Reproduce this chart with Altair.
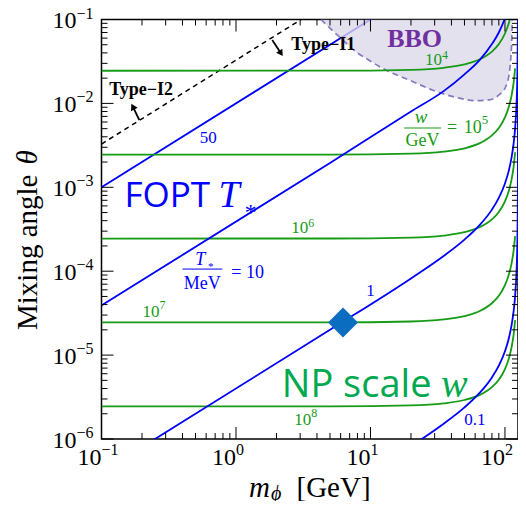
import altair as alt
import pandas as pd

PLOT_W = 416.5
PLOT_H = 419.5

X_DOMAIN = [0.1, 125]
Y_DOMAIN = [1e-6, 0.1]

# ---------------- curves ----------------
GREEN_M = [0.1, 5, 20, 35, 50, 65, 80, 90, 100, 107, 112, 116, 119]
GREEN_W4 = [0.0245, 0.02454, 0.02514, 0.02658, 0.02916, 0.03358, 0.0415, 0.05087, 0.06806, 0.09167, 0.1242, 0.1765, 0.2615]
GREEN_W5 = [0.00245, 0.002454, 0.002514, 0.002658, 0.002916, 0.003358, 0.00415, 0.005087, 0.006806, 0.009167, 0.01242, 0.01765, 0.02615]
GREEN_W6 = [2.45e-4, 2.454e-4, 2.514e-4, 2.658e-4, 2.916e-4, 3.358e-4, 4.15e-4, 5.087e-4, 6.806e-4, 9.167e-4, 1.242e-3, 1.765e-3, 2.615e-3]
GREEN_W7 = [2.45e-5, 2.454e-5, 2.514e-5, 2.658e-5, 2.916e-5, 3.358e-5, 4.15e-5, 5.087e-5, 6.806e-5, 9.167e-5, 1.242e-4, 1.765e-4, 2.615e-4]
GREEN_W8 = [2.45e-6, 2.454e-6, 2.514e-6, 2.658e-6, 2.916e-6, 3.358e-6, 4.15e-6, 5.087e-6, 6.806e-6, 9.167e-6, 1.242e-5, 1.765e-5, 2.615e-5]

BLUE_T50_M = [0.1, 12]
BLUE_T50 = [1e-3, 0.12]
BLUE_T10_M = [0.1, 5, 20, 35, 50, 65, 80, 90, 100, 107]
BLUE_T10 = [3.9e-5, 1.953e-3, 8.0e-3, 0.0140, 0.0222, 0.0330, 0.0510, 0.0700, 0.104, 0.15]
BLUE_T1_M = [0.2, 5, 20, 35, 50, 65, 80, 90, 100, 107, 112, 116, 119, 121, 122.5, 123.5, 124.2, 124.6, 124.85]
BLUE_T1 = [8.0e-7, 2.003e-5, 8.21e-5, 1.519e-4, 2.38e-4, 3.564e-4, 5.42e-4, 7.475e-4, 1.111e-3, 1.601e-3,
           2.272e-3, 3.343e-3, 5.08e-3, 7.686e-3, 0.01237, 0.0207, 0.03895, 0.078, 0.2082]
BLUE_T01_M = [20, 35, 50, 65, 80, 90, 100, 107, 112, 116, 119, 121, 122.5, 123.5, 124.2, 124.6, 124.85, 124.95, 124.99, 124.999]
BLUE_T01 = [8.21e-7, 1.519e-6, 2.38e-6, 3.564e-6, 5.42e-6, 7.475e-6, 1.111e-5, 1.601e-5, 2.272e-5, 3.343e-5,
            5.08e-5, 7.686e-5, 1.237e-4, 2.07e-4, 3.895e-4, 7.8e-4, 2.082e-3, 6.25e-3, 3.12e-2, 0.312]

TYPE_M = [0.1, 3.2]
TYPE_THETA = [3.28e-3, 0.105]

BBO_M = [4.28, 5.85, 7.78, 9.24, 13.0, 19.4, 28.8, 43.0, 60.6, 76.0, 90.2, 101.2, 107.1, 110.2, 112.1, 113.3]
BBO_THETA = [0.1, 0.0624, 0.0413, 0.0345, 0.025, 0.019, 0.01445, 0.01183, 0.01076, 0.011, 0.0126, 0.0158,
             0.0218, 0.0329, 0.052, 0.1]

BENCH_M = [6.25]
BENCH_THETA = [2.45e-5]

# ticks
X_MAJOR = [0.1, 1, 10, 100]
X_EXP = ["\u22121", "0", "1", "2"]
X_MINOR = [0.2, 0.3, 0.4, 0.5, 0.6, 0.7, 0.8, 0.9, 2, 3, 4, 5, 6, 7, 8, 9, 20, 30, 40, 50, 60, 70, 80, 90]
Y_MAJOR = [1e-6, 1e-5, 1e-4, 1e-3, 1e-2, 1e-1]
Y_EXP = ["\u22126", "\u22125", "\u22124", "\u22123", "\u22122", "\u22121"]
Y_MINOR = [k * 10.0 ** e for e in range(-6, -1) for k in range(2, 10)]

# colours / fonts
BLUE = "#0000ff"
GREEN = "#159b15"
NP_GREEN = "#00a94f"
SERIF = "Liberation Serif, Times New Roman, serif"
SANS = "Open Sans, Noto Sans, sans-serif"

xs = alt.Scale(type="log", domain=X_DOMAIN, nice=False)
ys = alt.Scale(type="log", domain=Y_DOMAIN, nice=False)


def X(f):
    return alt.X(f, type="quantitative", scale=xs, axis=None)


def Y(f):
    return alt.Y(f, type="quantitative", scale=ys, axis=None)


def curve(ms, ths, color, width=1.8, dash=None, opacity=1.0):
    df = pd.DataFrame({"m": ms, "t": ths})
    kw = dict(color=color, strokeWidth=width, clip=True, interpolate="monotone", opacity=opacity)
    if dash:
        kw["strokeDash"] = dash
    return alt.Chart(df).mark_line(**kw).encode(x=X("m"), y=Y("t"), order="m:Q")


def label(text, m, th, size, color="black", font=SERIF, style="normal", weight="normal",
          align="center", baseline="alphabetic", dx=0, dy=0):
    df = pd.DataFrame({"m": [m], "t": [th]})
    return alt.Chart(df).mark_text(text=text, fontSize=size, color=color, font=font, fontStyle=style,
                                   fontWeight=weight, align=align, baseline=baseline, dx=dx, dy=dy
                                   ).encode(x=X("m"), y=Y("t"))


def power(m, th, exp, size, esize, color, edy):
    return [label("10", m, th, size, color=color, align="right"),
            label(exp, m, th, esize, color=color, align="left", dy=edy)]


def hbar(m1, m2, th, color):
    df = pd.DataFrame({"m": [m1], "m2": [m2], "t": [th]})
    return alt.Chart(df).mark_rule(color=color, strokeWidth=1).encode(x=X("m"), x2="m2", y=Y("t"))


def arrow(m1, t1, m2, t2, ang):
    df = pd.DataFrame({"m": [m1], "m2": [m2], "t": [t1], "t2": [t2]})
    line = alt.Chart(df).mark_rule(color="black", strokeWidth=1.8).encode(x=X("m"), x2="m2", y=Y("t"), y2="t2")
    head = alt.Chart(pd.DataFrame({"m": [m2], "t": [t2]})).mark_point(
        shape="triangle-up", filled=True, color="black", size=55, angle=ang, opacity=1).encode(x=X("m"), y=Y("t"))
    return [line, head]


def page_text(text, x, y, size, style="normal", angle=0):
    return alt.Chart(pd.DataFrame({"a": [0]})).mark_text(
        text=text, fontSize=size, font=SERIF, fontStyle=style, align="left", baseline="alphabetic",
        angle=angle).encode(x=alt.value(x), y=alt.value(y))


layers = []

# under-fill lines
layers.append(curve(BLUE_T50_M, BLUE_T50, BLUE))
layers.append(curve(TYPE_M, TYPE_THETA, "black", width=1.5, dash=[5, 4]))

# BBO region
bbo = pd.DataFrame({"m": BBO_M, "t": BBO_THETA, "top": [0.1] * len(BBO_M)})
layers.append(alt.Chart(bbo).mark_area(color="#dcd8ea", opacity=0.78, interpolate="monotone", clip=True)
              .encode(x=X("m"), y=Y("t"), y2="top"))
layers.append(alt.Chart(bbo).mark_line(color="#857ac0", strokeWidth=1.7, strokeDash=[6, 4],
                                       interpolate="monotone", clip=True)
              .encode(x=X("m"), y=Y("t"), order="m:Q"))

# green w contours
for vals in [GREEN_W4, GREEN_W5, GREEN_W6, GREEN_W7, GREEN_W8]:
    layers.append(curve(GREEN_M, vals, GREEN))

# blue T* contours
layers.append(curve(BLUE_T10_M, BLUE_T10, BLUE))
layers.append(curve(BLUE_T1_M, BLUE_T1, BLUE))
layers.append(curve(BLUE_T01_M, BLUE_T01, BLUE))

# benchmark diamond
layers.append(alt.Chart(pd.DataFrame({"m": BENCH_M, "t": BENCH_THETA})).mark_point(
    shape="diamond", filled=True, color="#0b6dc0", size=900, opacity=1).encode(x=X("m"), y=Y("t")))

# ---------------- annotations ----------------
layers.append(label("BBO", 21.3, 0.0586, 26, color="#7030a0", weight="bold", baseline="middle"))
layers += power(34.0, 0.0287, "4", 17, 12, GREEN, -6)
# w/GeV = 10^5
layers.append(label("w", 23.8, 5.83e-3, 19, color=GREEN, style="italic"))
layers.append(hbar(17.8, 33.5, 5.09e-3, GREEN))
layers.append(label("GeV", 24.4, 3.1e-3, 18, color=GREEN))
layers.append(label("=", 40.4, 4.44e-3, 18, color=GREEN))
layers += power(67.2, 4.44e-3, "5", 18, 13, GREEN, -9)
layers += power(3.44, 2.85e-4, "6", 17, 12, GREEN, -6)
layers += power(0.27, 2.84e-5, "7", 17, 12, GREEN, -8)
layers += power(3.62, 1.47e-6, "8", 17, 12, GREEN, -8)

layers.append(label("50", 0.623, 3.87e-3, 17, color=BLUE, baseline="middle"))
layers.append(label("1", 10.0, 5.8e-5, 17, color=BLUE, baseline="middle"))
layers.append(label("0.1", 59.8, 1.69e-6, 17, color=BLUE, baseline="middle"))
# T*/MeV = 10
layers.append(label("T", 0.543, 1.19e-4, 18, color=BLUE, style="italic"))
layers.append(label("*", 0.644, 1.03e-4, 11, color=BLUE, style="italic"))
layers.append(hbar(0.40, 0.792, 1.06e-4, BLUE))
layers.append(label("MeV", 0.562, 6.14e-5, 18, color=BLUE))
layers.append(label("= 10", 0.923, 8.3e-5, 18, color=BLUE, align="left"))

layers.append(label("FOPT", 0.148, 5.82e-4, 35, color=BLUE, font=SANS, align="left"))
layers.append(label("T", 0.74, 5.82e-4, 38, color=BLUE, style="italic", align="left"))
layers.append(label("*", 1.26, 4.07e-4, 24, color=BLUE, style="italic"))
layers.append(label("NP scale", 2.19, 3.17e-6, 38, color=NP_GREEN, font=SANS, align="left"))
layers.append(label("w", 33.5, 3.17e-6, 40, color=NP_GREEN, style="italic", align="left"))

layers.append(label("Type\u2212I2", 0.197, 0.01445, 18, weight="bold", baseline="middle"))
layers.append(label("Type\u2212I1", 4.45, 0.0497, 18, weight="bold", baseline="middle"))
layers += arrow(0.191, 6.34e-3, 0.171, 9.14e-3, 333)
layers += arrow(1.86, 0.057, 2.16, 0.0395, 147)


# ---------------- frame ticks (inward) ----------------
def xticks(vals, length):
    df = pd.DataFrame({"v": vals})
    bot = alt.Chart(df).mark_rule(color="black", strokeWidth=1).encode(
        x=X("v"), y=alt.value(PLOT_H), y2=alt.value(PLOT_H - length))
    top = alt.Chart(df).mark_rule(color="black", strokeWidth=1).encode(
        x=X("v"), y=alt.value(0), y2=alt.value(length))
    return [bot, top]


def yticks(vals, length):
    df = pd.DataFrame({"v": vals})
    left = alt.Chart(df).mark_rule(color="black", strokeWidth=1).encode(
        y=Y("v"), x=alt.value(0), x2=alt.value(length))
    right = alt.Chart(df).mark_rule(color="black", strokeWidth=1).encode(
        y=Y("v"), x=alt.value(PLOT_W), x2=alt.value(PLOT_W - length))
    return [left, right]


layers += xticks(X_MAJOR, 12) + xticks(X_MINOR, 6) + yticks(Y_MAJOR, 12) + yticks(Y_MINOR, 6)

# tick labels
xl = pd.DataFrame({"v": X_MAJOR, "e": X_EXP})
layers.append(alt.Chart(xl).mark_text(text="10", fontSize=24, font=SERIF, align="right", baseline="alphabetic")
              .encode(x=X("v"), y=alt.value(PLOT_H + 26)))
layers.append(alt.Chart(xl).mark_text(fontSize=16, font=SERIF, align="left", baseline="alphabetic")
              .encode(x=X("v"), y=alt.value(PLOT_H + 16), text="e:N"))
yl = pd.DataFrame({"v": Y_MAJOR, "e": Y_EXP})
layers.append(alt.Chart(yl).mark_text(text="10", fontSize=24, font=SERIF, align="right", baseline="alphabetic", dy=8.5)
              .encode(y=Y("v"), x=alt.value(-25)))
layers.append(alt.Chart(yl).mark_text(fontSize=16, font=SERIF, align="left", baseline="alphabetic", dy=-1)
              .encode(y=Y("v"), x=alt.value(-25), text="e:N"))

# axis titles
layers.append(page_text("m", 147.5, 477.5, 29, style="italic"))
layers.append(page_text("\u03d5", 169.5, 480.5, 20, style="italic"))
layers.append(page_text("[GeV]", 195, 477.5, 29))
layers.append(page_text("Mixing angle", -64.5, 310.5, 29, angle=270))
layers.append(page_text("\u03b8", -64.5, 145, 29, style="italic", angle=270))

chart = alt.layer(*layers).properties(
    width=PLOT_W, height=PLOT_H,
    autosize=alt.AutoSizeParams(type="none"),
    padding={"left": 93.5, "top": 11.5, "right": 0, "bottom": 62},
).configure_view(stroke="black", strokeWidth=1.5)

chart.save("out.html", embed_options={"renderer": "svg", "actions": False})
